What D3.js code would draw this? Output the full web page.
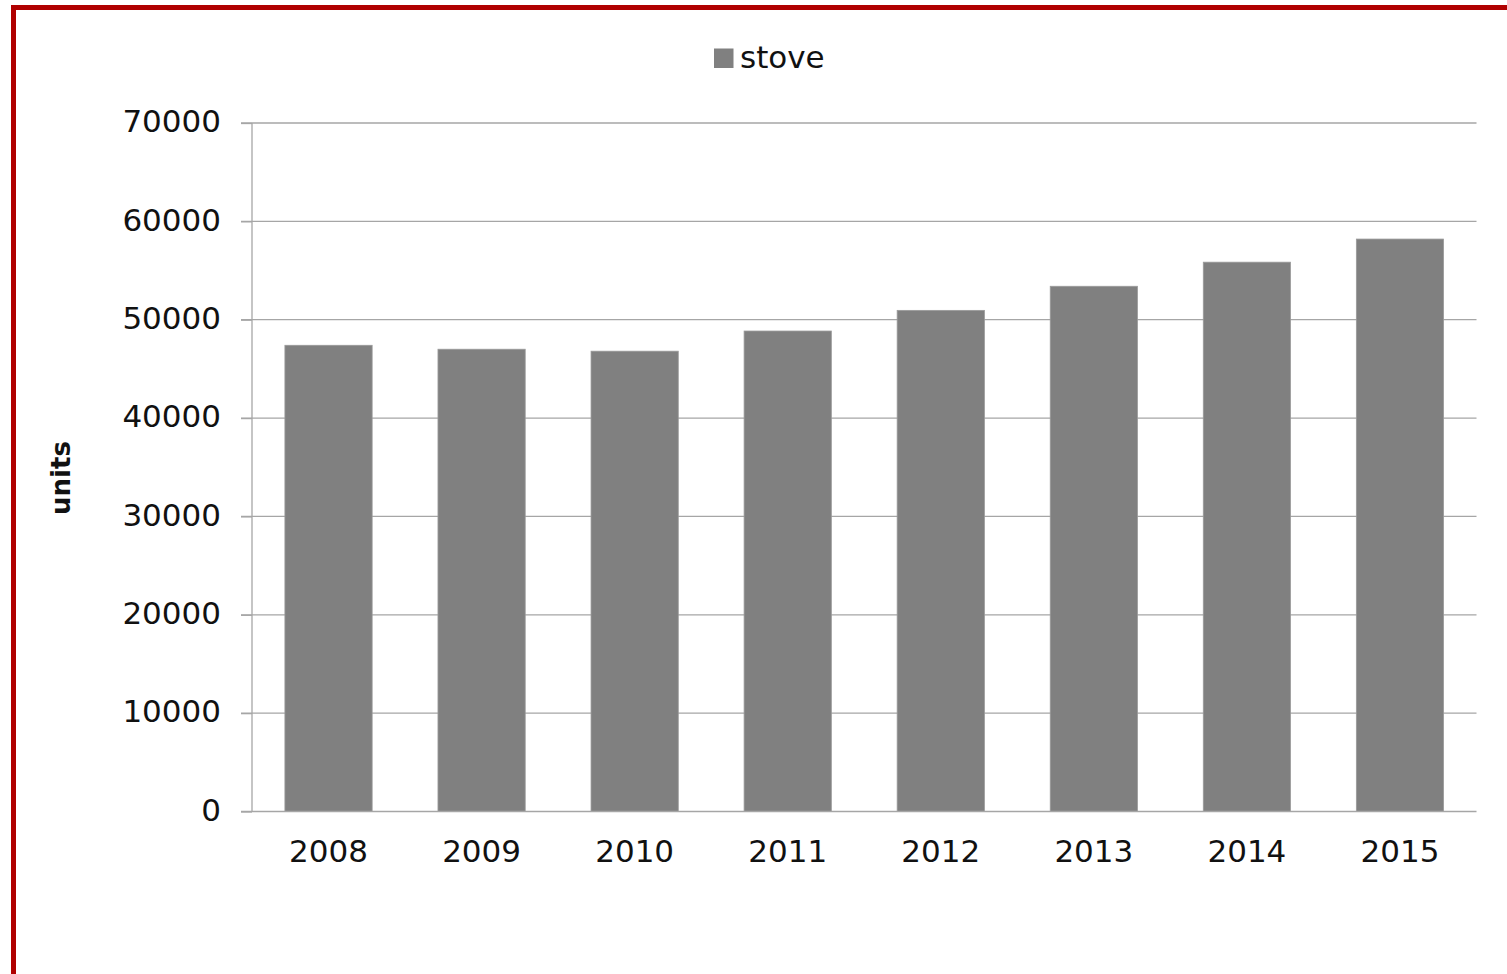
<!DOCTYPE html>
<html>
<head>
<meta charset="utf-8">
<script src="https://cdn.jsdelivr.net/npm/d3@7"></script>
<style>
  html, body { margin: 0; padding: 0; background: #fff; }
  svg { display: block; }
  text { font-family: "DejaVu Sans", sans-serif; fill: #111; }
</style>
</head>
<body>
<svg id="chart" width="1507" height="974"></svg>
<script>
const categories = ["2008", "2009", "2010", "2011", "2012", "2013", "2014", "2015"];
const stoveValues = [47400, 47000, 46800, 48850, 50950, 53400, 55850, 58200];
const yTickValues = [0, 10000, 20000, 30000, 40000, 50000, 60000, 70000];
const seriesName = "stove";
const yAxisTitle = "units";

const svg = d3.select("#chart");
const W = 1507, H = 974;
const plot = { left: 252, right: 1476.5, top: 123, bottom: 811.5 };

svg.append("rect").attr("width", W).attr("height", H).attr("fill", "#fff");

// red frame (top and left edges)
svg.append("line").attr("x1", 11).attr("x2", W).attr("y1", 7.5).attr("y2", 7.5)
  .attr("stroke", "#b00000").attr("stroke-width", 5);
svg.append("line").attr("x1", 13.5).attr("x2", 13.5).attr("y1", 5).attr("y2", H)
  .attr("stroke", "#b00000").attr("stroke-width", 5);

const x = d3.scaleBand().domain(categories).range([plot.left, plot.right])
  .paddingInner(0.43).paddingOuter(0.215);
const y = d3.scaleLinear().domain([0, 70000]).range([plot.bottom, plot.top]);

// gridlines
svg.append("g").selectAll("line").data(yTickValues.filter(d => d > 0)).join("line")
  .attr("x1", plot.left - 11).attr("x2", plot.right)
  .attr("y1", d => y(d)).attr("y2", d => y(d))
  .attr("stroke", "#a6a6a6").attr("stroke-width", 1.3);

// bars
svg.append("g").selectAll("rect").data(stoveValues).join("rect")
  .attr("x", (d, i) => x(categories[i]))
  .attr("width", x.bandwidth())
  .attr("y", d => y(d))
  .attr("height", d => y(0) - y(d))
  .attr("fill", "#808080")
  .attr("stroke", "#9a9a9a").attr("stroke-width", 0.8);

// y axis
const yAxis = d3.axisLeft(y).tickValues(yTickValues).tickSize(11).tickPadding(20).tickFormat(d3.format("d"));
const gy = svg.append("g").attr("transform", `translate(${plot.left},0)`).call(yAxis);
gy.select(".domain").attr("stroke", "#a6a6a6").attr("stroke-width", 1.3).attr("d", `M0,${plot.top}V${plot.bottom}`);
gy.selectAll(".tick line").attr("stroke", "#a6a6a6").attr("stroke-width", 1.3);
gy.selectAll(".tick text").attr("font-size", 31).attr("font-family", "DejaVu Sans").attr("fill", "#111").attr("dy", "0.28em");

// x axis
const xAxis = d3.axisBottom(x).tickSize(0).tickPadding(26);
const gx = svg.append("g").attr("transform", `translate(0,${plot.bottom})`).call(xAxis);
gx.select(".domain").attr("stroke", "#a6a6a6").attr("stroke-width", 1.3).attr("d", `M${plot.left - 11},0H${plot.right}`);
gx.selectAll(".tick text").attr("font-size", 31).attr("font-family", "DejaVu Sans").attr("fill", "#111").attr("dy", "0.78em");

// y axis title
svg.append("text")
  .attr("transform", `translate(70,478) rotate(-90)`)
  .attr("text-anchor", "middle")
  .attr("font-size", 26).attr("font-weight", "bold")
  .text(yAxisTitle);

// legend
const lg = svg.append("g");
lg.append("rect").attr("x", 714).attr("y", 48.5).attr("width", 19.5).attr("height", 19.5).attr("fill", "#808080");
lg.append("text").attr("x", 740).attr("y", 68).attr("font-size", 31).text(seriesName);
</script>
</body>
</html>
